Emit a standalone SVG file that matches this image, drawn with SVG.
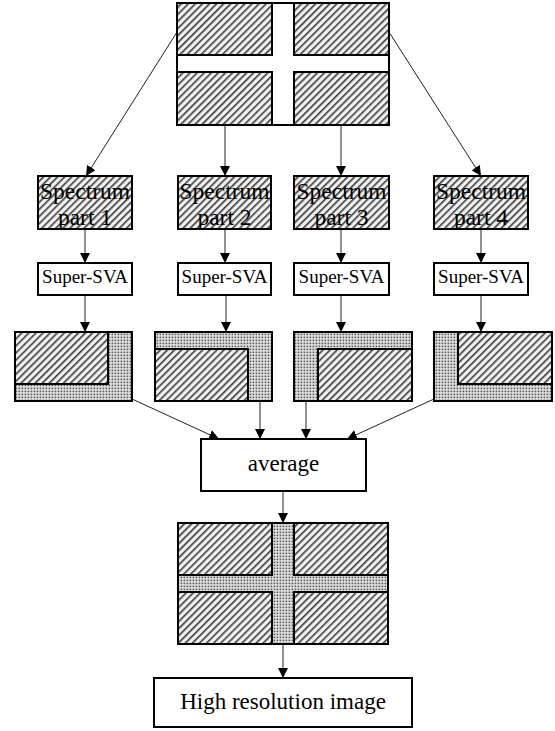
<svg xmlns="http://www.w3.org/2000/svg" width="555" height="731" viewBox="0 0 555 731">
<defs>
<pattern id="hatch" patternUnits="userSpaceOnUse" width="5" height="5" patternTransform="rotate(45)">
<rect width="5" height="5" fill="#f0f0f0"/>
<rect x="0" y="0" width="1.6" height="5" fill="#3c3c3c"/>
</pattern>
<pattern id="dots" patternUnits="userSpaceOnUse" width="3" height="3">
<rect width="3" height="3" fill="#e2e2e2"/>
<rect x="0.6" y="0.6" width="1.6" height="1.6" fill="#555"/>
</pattern>
<marker id="arr" markerWidth="10" markerHeight="10" viewBox="0 0 10 10" refX="10" refY="5" orient="auto" markerUnits="userSpaceOnUse">
<path d="M0,0 L10,5 L0,10 Z" fill="#000"/>
</marker>
</defs>
<style>
.b{stroke:#000;stroke-width:2}
.h{fill:url(#hatch)}
.d{fill:url(#dots)}
.w{fill:#fff}
.c{stroke:#222;stroke-width:1;fill:none;marker-end:url(#arr)}
.t{font-family:"Liberation Serif","Times New Roman",serif;fill:#000;text-anchor:middle}
</style>
<g id="connectors">
<line class="c" x1="177" y1="32" x2="86" y2="176"/>
<line class="c" x1="225" y1="125" x2="225" y2="176"/>
<line class="c" x1="341" y1="125" x2="341" y2="176"/>
<line class="c" x1="389" y1="32" x2="481" y2="176"/>
<line class="c" x1="85" y1="229" x2="85" y2="263"/>
<line class="c" x1="225" y1="229" x2="225" y2="263"/>
<line class="c" x1="341" y1="229" x2="341" y2="263"/>
<line class="c" x1="481" y1="229" x2="481" y2="263"/>
<line class="c" x1="85" y1="295" x2="85" y2="332"/>
<line class="c" x1="226" y1="295" x2="226" y2="332"/>
<line class="c" x1="341" y1="295" x2="341" y2="332"/>
<line class="c" x1="481" y1="295" x2="481" y2="332"/>
<line class="c" x1="132" y1="399" x2="219" y2="439"/>
<line class="c" x1="260" y1="401" x2="260" y2="439"/>
<line class="c" x1="306" y1="401" x2="306" y2="439"/>
<line class="c" x1="434" y1="399" x2="347" y2="439"/>
<line class="c" x1="283" y1="491" x2="283" y2="523"/>
<line class="c" x1="283" y1="644" x2="283" y2="678"/>
</g>
<g id="input-image">
<rect class="b w" x="177" y="3" width="212" height="122"/>
<rect class="b h" x="177" y="3" width="95" height="52"/>
<rect class="b h" x="294" y="3" width="95" height="52"/>
<rect class="b h" x="177" y="72" width="95" height="53"/>
<rect class="b h" x="294" y="72" width="95" height="53"/>
</g>
<g id="spectrum1">
<rect class="b h" x="38" y="176" width="94" height="53"/>
<text class="t" font-size="23.5" x="85" y="199">Spectrum</text>
<text class="t" font-size="23.5" x="85" y="225">part 1</text>
</g>
<g id="spectrum2">
<rect class="b h" x="178" y="176" width="93" height="53"/>
<text class="t" font-size="23.5" x="224.5" y="199">Spectrum</text>
<text class="t" font-size="23.5" x="224.5" y="225">part 2</text>
</g>
<g id="spectrum3">
<rect class="b h" x="294" y="176" width="95" height="53"/>
<text class="t" font-size="23.5" x="341.5" y="199">Spectrum</text>
<text class="t" font-size="23.5" x="341.5" y="225">part 3</text>
</g>
<g id="spectrum4">
<rect class="b h" x="434" y="176" width="94" height="53"/>
<text class="t" font-size="23.5" x="481" y="199">Spectrum</text>
<text class="t" font-size="23.5" x="481" y="225">part 4</text>
</g>
<g id="sva1">
<rect class="b w" x="38" y="263" width="94" height="32"/>
<text class="t" font-size="19" x="85" y="283">Super-SVA</text>
</g>
<g id="sva2">
<rect class="b w" x="178" y="263" width="93" height="32"/>
<text class="t" font-size="19" x="224.5" y="283">Super-SVA</text>
</g>
<g id="sva3">
<rect class="b w" x="294" y="263" width="95" height="32"/>
<text class="t" font-size="19" x="341.5" y="283">Super-SVA</text>
</g>
<g id="sva4">
<rect class="b w" x="434" y="263" width="94" height="32"/>
<text class="t" font-size="19" x="481" y="283">Super-SVA</text>
</g>
<g id="result1">
<rect class="b d" x="15" y="332" width="117" height="69"/>
<rect class="b h" x="15" y="332" width="93" height="52"/>
</g>
<g id="result2">
<rect class="b d" x="155" y="332" width="117" height="69"/>
<rect class="b h" x="155" y="349" width="93" height="52"/>
</g>
<g id="result3">
<rect class="b d" x="294" y="332" width="118" height="69"/>
<rect class="b h" x="318" y="349" width="94" height="52"/>
</g>
<g id="result4">
<rect class="b d" x="434" y="332" width="118" height="69"/>
<rect class="b h" x="458" y="332" width="94" height="52"/>
</g>
<g id="average">
<rect class="b w" x="201" y="439" width="165" height="52"/>
<text class="t" font-size="23" x="283.5" y="471">average</text>
</g>
<g id="combined-image">
<rect class="b d" x="178" y="523" width="210" height="121"/>
<rect class="b h" x="178" y="523" width="94" height="52"/>
<rect class="b h" x="294" y="523" width="94" height="52"/>
<rect class="b h" x="178" y="592" width="94" height="52"/>
<rect class="b h" x="294" y="592" width="94" height="52"/>
</g>
<g id="output">
<rect class="b w" x="154" y="678" width="258" height="49"/>
<text class="t" font-size="23" x="283" y="709">High resolution image</text>
</g>
</svg>
